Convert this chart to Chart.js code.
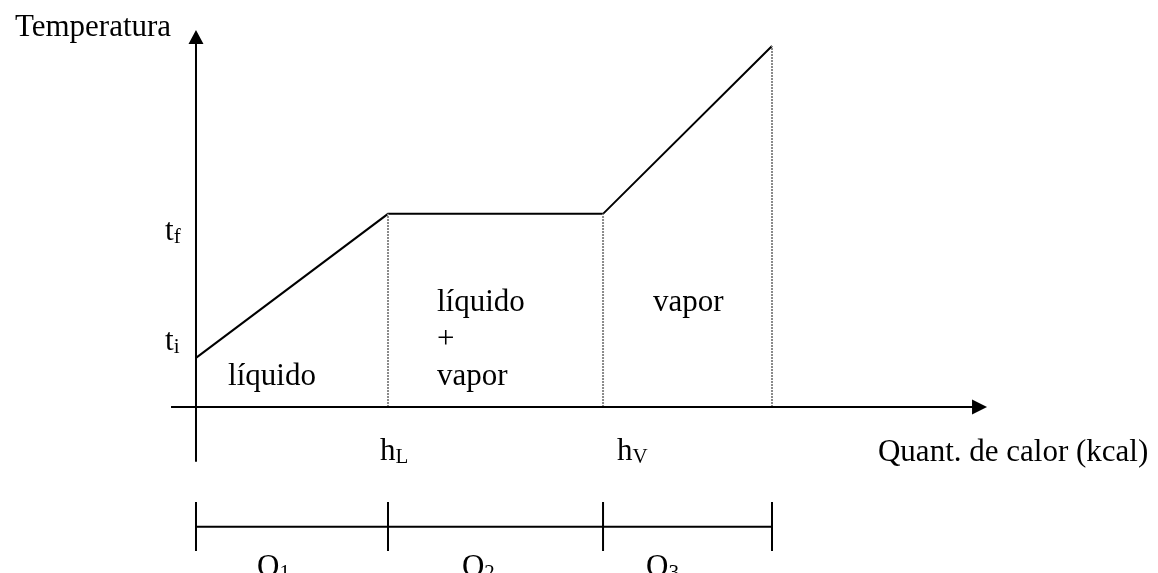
<!DOCTYPE html>
<html>
<head>
<meta charset="utf-8">
<title>Temperatura x Quant. de calor</title>
<script src="https://cdn.jsdelivr.net/npm/chart.js@4/dist/chart.umd.min.js"></script>
<style>
  body { margin: 0; background: #fff; }
  #wrap { width: 1158px; height: 573px; }
</style>
</head>
<body>
<div id="wrap"><canvas id="myChart" width="1158" height="573"></canvas></div>
<script>
// heat (x) and temperature (y) of the heating curve: start, hL, hV, end
const heatPoints = [0, 10, 21.2, 30];
const tempPoints = [13.6, 53.5, 53.5, 100];

// tick-like labels (base letter + subscript)
const tempTicks = [['t', 'i'], ['t', 'f']];
const heatTicks = [['h', 'L'], ['h', 'V']];
const stageLabels = [['Q', '1'], ['Q', '2'], ['Q', '3']];
const phaseLabels = [['líquido'], ['líquido', '+', 'vapor'], ['vapor']];
const yTitle = 'Temperatura';
const xTitle = 'Quant. de calor (kcal)';

const ctx = document.getElementById('myChart');
const FONT = "'Liberation Serif', 'Times New Roman', serif";

// where the texts go, in data units of the scales
const place = {
  yTitle: [-9.43, 102.9],
  xTitle: [35.52, -15.0],
  tempTicks: [[-1.61, 15.8], [-1.61, 46.3]],
  heatTicks: [[9.58, -14.7], [21.93, -14.7]],
  stages: [[3.18, -46.8], [13.85, -46.8], [23.44, -46.8]],
  phases: [[1.67, [6.1]], [12.55, [26.6, 16.3, 6.1]], [23.8, [26.6]]],
  xAxis: [-1.3, 41.2],
  yAxis: [-15.2, 104.4],
  bracket: [-33.2, -26.3, -39.9]
};

function subText(c, x, y, pair) {
  c.font = '31px ' + FONT;
  c.fillText(pair[0], x, y);
  const w = c.measureText(pair[0]).width;
  c.font = '21px ' + FONT;
  c.fillText(pair[1], x + w, y + 3);
}

const diagram = {
  id: 'diagram',
  afterDraw(chart) {
    const c = chart.ctx, xs = chart.scales.x, ys = chart.scales.y;
    const px = v => xs.getPixelForValue(v), py = v => ys.getPixelForValue(v);
    c.save();
    c.strokeStyle = '#000'; c.fillStyle = '#000'; c.lineWidth = 2;

    // axes
    const ox = px(0), oy = py(0);
    const xEnd = px(place.xAxis[1]), yEnd = py(place.yAxis[1]);
    c.beginPath();
    c.moveTo(px(place.xAxis[0]), oy); c.lineTo(xEnd - 10, oy);
    c.moveTo(ox, py(place.yAxis[0])); c.lineTo(ox, yEnd + 10);
    c.stroke();
    c.beginPath();
    c.moveTo(xEnd, oy); c.lineTo(xEnd - 15, oy - 7.5); c.lineTo(xEnd - 15, oy + 7.5); c.closePath();
    c.moveTo(ox, yEnd); c.lineTo(ox - 7.5, yEnd + 14); c.lineTo(ox + 7.5, yEnd + 14); c.closePath();
    c.fill();

    // Q1 Q2 Q3 bracket
    const [by, bt, bb] = place.bracket;
    c.beginPath();
    c.moveTo(px(heatPoints[0]), py(by)); c.lineTo(px(heatPoints[heatPoints.length - 1]), py(by));
    heatPoints.forEach(h => { c.moveTo(px(h), py(bt)); c.lineTo(px(h), py(bb)); });
    c.stroke();

    // texts
    c.textBaseline = 'alphabetic'; c.textAlign = 'left';
    c.font = '31px ' + FONT;
    c.fillText(yTitle, px(place.yTitle[0]), py(place.yTitle[1]));
    c.fillText(xTitle, px(place.xTitle[0]), py(place.xTitle[1]));
    tempTicks.forEach((t, i) => subText(c, px(place.tempTicks[i][0]), py(place.tempTicks[i][1]), t));
    heatTicks.forEach((t, i) => subText(c, px(place.heatTicks[i][0]), py(place.heatTicks[i][1]), t));
    stageLabels.forEach((t, i) => subText(c, px(place.stages[i][0]), py(place.stages[i][1]), t));
    c.font = '31px ' + FONT;
    phaseLabels.forEach((lines, i) => {
      lines.forEach((s, j) => c.fillText(s, px(place.phases[i][0]), py(place.phases[i][1][j])));
    });
    c.restore();
  }
};

const curve = heatPoints.map((h, i) => ({ x: h, y: tempPoints[i] }));
const guides = heatPoints.slice(1).map((h, i) => ({
  data: [{ x: h, y: 0 }, { x: h, y: tempPoints[i + 1] }],
  borderColor: '#8a8a8a', borderWidth: 2, borderDash: [2, 1],
  pointRadius: 0, showLine: true
}));

new Chart(ctx, {
  type: 'scatter',
  data: {
    datasets: [
      ...guides,
      { data: curve, borderColor: '#000', borderWidth: 2, pointRadius: 0, showLine: true, tension: 0 }
    ]
  },
  options: {
    responsive: false,
    animation: false,
    layout: { padding: 0 },
    plugins: { legend: { display: false }, tooltip: { enabled: false } },
    scales: {
      x: { type: 'linear', display: false, min: -10.208, max: 50.104 },
      y: { type: 'linear', display: false, min: -45.984, max: 112.742 }
    }
  },
  plugins: [diagram]
});
</script>
</body>
</html>
